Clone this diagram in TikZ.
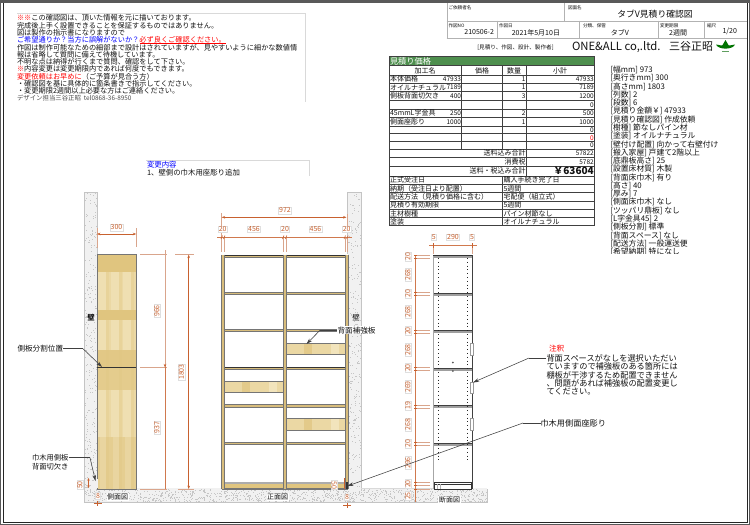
\documentclass[tikz,border=0pt]{standalone}
\usepackage{fontspec}
\setmainfont{Noto Sans CJK JP}
\usetikzlibrary{arrows.meta}
\definecolor{dimc}{HTML}{C8612F}
\definecolor{dimx}{HTML}{D9A58C}
\definecolor{woodA}{HTML}{EBD8A4}
\definecolor{woodB}{HTML}{E0C57F}
\definecolor{woodS}{HTML}{D8BD7C}
\definecolor{woodC}{HTML}{F2E4BC}
\definecolor{edge}{HTML}{757575}
\definecolor{wallc}{HTML}{F1F1F1}
\definecolor{wallb}{HTML}{C4C4C4}
\definecolor{tgreen}{HTML}{4E8F4E}
\definecolor{inkc}{HTML}{111111}
\newcounter{tn}
% general text: [node options]{x}{y}{size}{text}
\newcommand{\tx}[5][]{\stepcounter{tn}\node[txt,#1,name=t\thetn] at (#2,#3) {\fontsize{#4}{#4}\selectfont #5};}
\newcommand{\dimlab}[4][0]{\stepcounter{tn}\node[dimlabel,rotate=#1,name=d\thetn] at (#2,#3) {#4};}
\newcommand{\speck}[5]{\foreach \i in {1,...,#5}{\pgfmathsetmacro{\px}{#1+rnd*#3}\pgfmathsetmacro{\py}{#2+rnd*#4}\fill[gray!45] (\px,\py) rectangle ++(.6,.6);}}
\newcommand{\shelfF}[4]{\fill[woodS] (#1,#3) rectangle (#2,#4);\fill[edge] (#1,#4-1) rectangle (#2,#4);\fill[edge] (#1,#3) rectangle (#2,#3+.5);}
\newcommand{\backb}[4]{\fill[woodA] (#1,#3) rectangle (#2,#4);\fill[woodB,opacity=.7] (#1+18,#3) rectangle (#1+26,#4);\fill[woodC] (#2-14,#3) rectangle (#2-6,#4);\fill[edge] (#1,#3-.8) rectangle (#2,#3+.4);\fill[edge] (#1,#4-.6) rectangle (#2,#4+.3);}
\newcommand{\sect}[2]{\fill[gray!75] (433.3,#1) rectangle (472.3,#2);\fill[black!75] (433.3,#1) rectangle (472.3,#1+.7);}
\tikzset{
 txt/.style={inner sep=0pt,outer sep=0pt,text=inkc,anchor=west},
 dimlabel/.style={inner sep=.6pt,outer sep=0pt,text=dimc,fill=white,draw=gray!25,line width=.25pt,font=\fontsize{7}{7}\selectfont},
 dimline/.style={dimc!85,line width=.55pt},
 dimtip/.style={dimc,line width=.55pt,{Stealth[length=3.4pt,width=2.6pt]}-{Stealth[length=3.4pt,width=2.6pt]}},
 extl/.style={dimx,line width=.5pt},
 grid/.style={black!75,line width=.45pt},
 tgrid/.style={gray!60,line width=.35pt},
 leader/.style={black!75,line width=.5pt},
 leadarrow/.style={black!75,line width=.55pt,-{Stealth[length=6pt,width=3.6pt]}},
}
\begin{document}
\begin{tikzpicture}[x=1pt,y=-1pt]
\useasboundingbox (0,0) rectangle (750,525);
\fill[white] (0,0) rectangle (750,525);
\pgfmathsetseed{4}
% frame
\draw[gray!70!black,line width=1pt] (.5,.5) rectangle (749.5,524.5);
\draw[black!85,line width=1pt] (3.5,2.5) rectangle (747.5,522.8);
\fill[gray!70!black] (0,0) rectangle (750,2.5);
% notes
\tx{17}{18}{7.2}{\textcolor{red}{※※}この確認図は、頂いた情報を元に描いております。}
\tx{17}{25.3}{7.2}{完成後上手く設置できることを保証するものではありません。}
\tx{17}{32.7}{7.2}{図は製作の指示書になりますので}
\tx{17}{40}{7.2}{\textcolor{blue}{ご希望通りか？当方に誤解がないか？}\textcolor{red}{必ず良くご確認ください。}}
\draw[red,line width=.5pt] (140,43.4) -- (226,43.4);
\tx{17}{47.3}{7.2}{作図は制作可能なための細部まで設計はされていますが、見やすいように細かな数値情}
\tx{17}{54.7}{7.2}{報は省略して質問に備えて待機しています。}
\tx{17}{62}{7.2}{不明な点は納得が行くまで質問、確認をして下さい。}
\tx{17}{69}{7.2}{\textcolor{red}{※}内容変更は変更期限内であれば何度でもできます。}
\tx{17}{76.3}{7.2}{\textcolor{red}{変更依頼はお早めに}（ご予算が見合う方）}
\tx{17}{83.3}{7.2}{・確認図を基に具体的に箇条書きで指示してください。}
\tx{17}{90.7}{7.2}{・変更期限2週間以上必要な方はご連絡ください。}
\tx{17}{98}{6.4}{\textcolor{black!70}{デザイン担当三谷正昭\ \ tel0868-36-8950}}
\draw[gray!30,line width=.3pt] (17,13.3) -- (305,13.3);\draw[gray!30,line width=.3pt] (305,13.3) -- (305,102);
% change note
\draw[gray!30,line width=.3pt] (146,160.3) -- (309.5,160.3) -- (309.5,176);
\tx{147}{165}{7.4}{\textcolor{blue}{変更内容}}
\tx{147}{173}{7.4}{1、壁側の巾木用座彫り追加}
% title block
\draw[tgrid] (446.7,3) -- (446.7,38) (564,3) -- (564,20.7) (446.7,20.7) -- (747,20.7) (446.7,38) -- (747,38);
\draw[tgrid] (496.7,20.7) -- (496.7,38) (579,20.7) -- (579,38) (657.7,20.7) -- (657.7,38) (704,20.7) -- (704,38);
\tx{448.5}{8}{4.6}{ご依頼者名}
\tx{568}{8}{4.6}{図面名}
\tx{448.5}{25.5}{4.6}{作図NO}
\tx{499}{25.5}{4.6}{作図日}
\tx{583}{25.5}{4.6}{分類、保管}
\tx{660}{25.5}{4.6}{変更期限}
\tx{707}{25.5}{4.6}{縮尺}
\tx[anchor=center]{655}{13.7}{8.8}{タブV見積り確認図}
\tx[anchor=east]{494}{32.5}{7}{210506-2}
\tx[anchor=east]{560}{32.5}{7}{2021年5月10日}
\tx[anchor=center]{620}{32.5}{7}{タブV}
\tx[anchor=east]{687}{32.5}{7}{2週間}
\tx[anchor=east]{737}{31}{7}{1/20}
\tx[anchor=center]{515.5}{47.3}{5.6}{[見積り、作図、設計、製作者]}
\tx{572}{47}{11.3}{ONE\&ALL co,.ltd.}
\tx{669}{46.5}{11}{三谷正昭}
% logo
\fill[green!45!black] (716,44.5) .. controls (722,46) and (729,46) .. (735,44.5) .. controls (733,50) and (718,50) .. (716,44.5);
\fill[green!45!black] (725.5,40) -- (729,46) -- (722,46) -- cycle;
\fill[green!25!gray] (722,50.5) rectangle (729,52);
% price table
\fill[tgreen] (389,56) rectangle (594.3,65.7);
\draw[grid,line width=.6pt] (389,56) rectangle (594.3,225.7);
\tx{390}{61}{8.2}{\textcolor{white}{見積り価格}}
\foreach \yy in {65.7,75,83,91.7,100.3,109,117.7,126.3,133.7,141.7,149,157.3,166.3,176,184.3,192.7,201,209.3,217.7}{\draw[grid] (389,\yy) -- (594.3,\yy);}
\draw[grid] (461.7,65.7) -- (461.7,149) (502.3,65.7) -- (502.3,149) (526.3,65.7) -- (526.3,176) (502.3,176) -- (502.3,225.7);
% header row
\tx[anchor=center]{425}{70.8}{7}{加工名}
\tx[anchor=center]{482}{70.8}{7}{価格}
\tx[anchor=center]{514}{70.8}{7}{数量}
\tx[anchor=center]{560}{70.8}{7}{小計}
% rows: name, price, qty, total
\tx{390}{79.3}{7}{本体価格}\tx[anchor=east]{461}{79.3}{6.5}{47933}\tx[anchor=east]{525.5}{79.3}{6.5}{1}\tx[anchor=east]{593.8}{79.3}{6.5}{47933}
\tx{390}{87.5}{7}{オイルナチュラル}\tx[anchor=east]{461}{87.5}{6.5}{7189}\tx[anchor=east]{525.5}{87.5}{6.5}{1}\tx[anchor=east]{593.8}{87.5}{6.5}{7189}
\tx{390}{96}{7}{側板背面切欠き}\tx[anchor=east]{461}{96}{6.5}{400}\tx[anchor=east]{525.5}{96}{6.5}{3}\tx[anchor=east]{593.8}{96}{6.5}{1200}
\tx[anchor=east]{593.8}{105}{6.5}{0}
\tx{390}{113.3}{7}{45mmL字金具}\tx[anchor=east]{461}{113.3}{6.5}{250}\tx[anchor=east]{525.5}{113.3}{6.5}{2}\tx[anchor=east]{593.8}{113.3}{6.5}{500}
\tx{390}{122}{7}{側面座彫り}\tx[anchor=east]{461}{122}{6.5}{1000}\tx[anchor=east]{525.5}{122}{6.5}{1}\tx[anchor=east]{593.8}{122}{6.5}{1000}
\tx[anchor=east]{593.8}{130}{6.5}{0}
\tx[anchor=east]{593.8}{137.7}{6.5}{\textcolor{red}{0}}
\tx[anchor=east]{593.8}{145.5}{6.5}{0}
\tx[anchor=east]{525.5}{153.2}{7}{送料込み合計}\tx[anchor=east]{593.8}{153.2}{6.5}{57822}
\tx[anchor=east]{525.5}{161.8}{7}{消費税}\tx[anchor=east]{593.8}{161.8}{6.5}{5782}
\tx[anchor=east]{525.5}{171}{7}{送料・税込み合計}\tx[anchor=east]{593.8}{170.5}{10}{\textbf{￥63604}}
\tx{390}{180.3}{7}{正式受注日}\tx{503.5}{180.3}{7}{購入手続き完了日}
\tx{390}{188.5}{7}{納期（受注日より配置）}\tx{503.5}{188.5}{7}{5週間}
\tx{390}{197}{7}{配送方法（見積り価格に含む）}\tx{503.5}{197}{7}{宅配便（組立式）}
\tx{390}{205}{7}{見積り有効期限}\tx{503.5}{205}{7}{5週間}
\tx{390}{213.5}{7}{主材樹種}\tx{503.5}{213.5}{7}{パイン材節なし}
\tx{390}{221.7}{7}{塗装}\tx{503.5}{221.7}{7}{オイルナチュラル}
% spec list
\begin{scope}
\clip (605,60) rectangle (745,253.5);
\foreach \n/\s in {0/{[幅mm] 973},1/{[奥行きmm] 300},2/{[高さmm] 1803},3/{[列数] 2},4/{[段数] 6},5/{[見積り金額￥] 47933},6/{[見積り確認図] 作成依頼},7/{[樹種] 節なしパイン材},8/{[塗装] オイルナチュラル},9/{[壁付け配置] 向かって右壁付け},10/{[搬入家屋] 戸建て2階以上},11/{[底鼎板高さ] 25},12/{[設置床材質] 木製},13/{[背面床巾木] 有り},14/{[高さ] 40},15/{[厚み] 7},16/{[側面床巾木] なし},17/{[ツッパリ鼎板] なし},18/{[L字金具45] 2},19/{[側板分割] 標準},20/{[背面スペース] なし},21/{[配送方法] 一般運送便},22/{[希望納期] 特になし}}{
 \pgfmathsetmacro{\yy}{70+8.27*\n}
 \tx{610.5}{\yy}{7.8}{\s}
}
\end{scope}
% walls and floor
\fill[wallc] (84,192) rectangle (97,490);
\fill[wallc] (347.7,192) rectangle (361,490);
\fill[wallc] (84,488) rectangle (487,502);
\speck{84}{192}{13}{296}{260}
\speck{348}{192}{13}{296}{260}
\speck{84}{489}{403}{13}{1100}
\draw[wallb,line width=.6pt] (97,192.3) -- (84.3,192.3) -- (84.3,501.8) -- (487,501.8) -- (487,488.5);
\draw[wallb,line width=.6pt] (97,192.3) -- (97,254);
\draw[wallb,line width=.9pt] (347.7,192.3) -- (361,192.3) -- (361,488);
\draw[wallb,line width=.6pt] (347.7,192.3) -- (347.7,254);
\draw[gray!30,line width=.4pt] (361,488.3) -- (433,488.3);
% side panel
\fill[woodA] (97,254.5) rectangle (136.2,489);
\fill[woodB] (97,254.5) rectangle (136.2,272);
\fill[woodB] (97,310) rectangle (136.2,320);
\fill[woodB,opacity=.8] (97,350) rectangle (136.2,367);
\fill[woodB,opacity=.6] (97,368) rectangle (136.2,390);
\fill[woodB,opacity=.5] (97,437) rectangle (136.2,489);
\foreach \xx in {98,111,123}{\fill[woodC,opacity=.6] (\xx,272) rectangle (\xx+8,310);\fill[woodC,opacity=.6] (\xx,320) rectangle (\xx+8,350);\fill[woodC,opacity=.6] (\xx,390) rectangle (\xx+8,437);\fill[woodC,opacity=.35] (\xx+2,437) rectangle (\xx+8,489);\fill[woodB,opacity=.25] (\xx+8,254.5) rectangle (\xx+11,489);}
\draw[edge,line width=.8pt] (97,489) -- (97,254.5) -- (136.2,254.5) -- (136.2,489) -- cycle;
\draw[black!80,line width=.6pt] (97,367.3) -- (136.2,367.3);
% wall-side cut-out
\fill[wallc] (94,479) rectangle (97.6,488.4);
% side dims
\coordinate (s3a) at (97,234);\coordinate (s3b) at (136.2,234);
\draw[extl] (97,228) -- (97,248) (136.2,228) -- (136.2,247);
\draw[dimtip] (s3a) -- (s3b);
\dimlab{116.5}{227.5}{300}
\draw[extl] (140,254.7) -- (167,254.7) (175,254.7) -- (194,254.7) (140,367.3) -- (167,367.3) (140,489) -- (167,489) (178,489) -- (194,489);
\coordinate (v1) at (165,250);\coordinate (v2) at (165,367.3);\coordinate (v3) at (165,489);\coordinate (v4) at (188.7,254.7);\coordinate (v5) at (188.7,489);
\draw[dimx,line width=.6pt] (v1) -- (v2);
\draw[dimc!85,line width=.55pt] (v2) -- (v3);
\draw[dimtip] (v4) -- (v5);
\draw[dimc,line width=.5pt,-{Stealth[length=3.4pt,width=2.6pt]}] (165,365) -- (165,367.3);
\dimlab[90]{157}{311}{966}
\dimlab[90]{157}{427.5}{937}
\dimlab[90]{181.5}{372}{1803}
\tx[anchor=center,fill=white,inner sep=.4pt]{91}{317.5}{7.4}{\textbf{壁}}
\tx[anchor=center]{356}{317.5}{7.4}{壁}
% front view
\begin{scope}
\fill[white] (221.7,254.7) rectangle (347.7,489);
\backb{286}{345}{343.3}{355}
\backb{224}{283}{381.7}{392.7}
\backb{286}{345}{418.3}{430.3}
\foreach \a/\b in {254.7/257.8,292.3/295.4,329.3/332.4,367.3/370.3,404.3/407.7,441.7/445}{\shelfF{224}{283.5}{\a}{\b}\shelfF{286}{345}{\a}{\b}}
\fill[woodB] (224,482.4) rectangle (345,488.7);
\fill[gray!65] (224,482.4) rectangle (345,484.4);
\fill[edge] (224,487.8) rectangle (345,488.9);
\draw[black!80,line width=.6pt] (221.7,254.9) -- (347.7,254.9) (221.7,367.3) -- (347.7,367.3);
\foreach \a in {221.7,283.3,345}{\fill[woodS] (\a,254.7) rectangle (\a+2.8,489);\draw[edge,line width=.5pt] (\a,254.7) -- (\a,489) (\a+2.8,254.7) -- (\a+2.8,489);}
\draw[edge,line width=.5pt] (221.7,489) -- (347.7,489);
\fill[black!80] (345.5,482) rectangle (347.5,489);
\end{scope}
% front dims
\draw[extl] (221.7,213) -- (221.7,252) (347,214) -- (347,232);
\draw[extl] (224.5,237) -- (224.5,252) (283.5,237) -- (283.5,252) (286.3,237) -- (286.3,252) (345,237) -- (345,252) (347.7,237) -- (347.7,252);
\coordinate (f1) at (221.7,217.3);\coordinate (f2) at (346.5,217.3);
\draw[dimtip] (f1) -- (f2);
\draw[dimline] (217,237.3) -- (352,237.3);
\foreach \a in {222,224.5,283.5,286.3,345,347.7}{\draw[dimc,line width=.6pt] (\a-1,239) -- (\a+.5,235.5);}
\dimlab{285}{210.5}{972}
\dimlab{222.7}{229}{20}
\dimlab{254}{229}{456}
\dimlab{285}{229}{20}
\dimlab{315.5}{229}{456}
\dimlab{346.7}{229}{20}
% section view
\fill[white] (433.3,255) rectangle (472.3,489);
\foreach \a/\b in {255/258,292.7/295.5,330/333,367.7/370.5,405/408,442.7/445.7}{\sect{\a}{\b}}
\fill[white] (434.5,484) rectangle (471.5,487);
\draw[black!80,line width=.5pt] (434.5,482.3) rectangle (471.5,484.3);
\draw[black!80,line width=.5pt] (434.5,484.3) rectangle (471.5,489);
\draw[gray!60,line width=.4pt] (437,484.3) -- (437,489) (440,484.3) -- (440,489);
\draw[gray!70,line width=.7pt] (433.4,255) -- (433.4,489);
\draw[black!75,line width=.7pt] (472.3,255) -- (472.3,489);
\draw[black!80,line width=.8pt] (433.3,255) -- (472.3,255);
\draw[black!85,line width=.9pt,dash pattern=on .9pt off 2.9pt] (438.7,258) -- (438.7,460) (467.3,258) -- (467.3,460);
\foreach \a/\b in {343/355,382/393,418/430}{\draw[gray!80,line width=.4pt,fill=white] (470,\a) rectangle (473,\b);}
\fill[gray!70!black] (452.8,362.5) circle (1pt) (452.8,371) circle (1pt);
% section dims
\dimlab{433.7}{237}{5}
\dimlab{453}{237}{290}
\dimlab{472}{237}{5}
\draw[dimline] (429,245) -- (477,245);
\draw[extl] (433.5,245) -- (433.5,254) (472,245) -- (472,254);
\draw[dimc,line width=.7pt] (433.5,243) -- (433.5,248) (472,243) -- (472,248);
\draw[dimline] (415.5,255) -- (415.5,502);
\foreach \a in {255,258,292.7,295.5,330,333,367.7,370.5,405,408,442.7,445.7,482.5,485,489}{\draw[extl] (416,\a) -- (430,\a);\draw[dimc,line width=.7pt] (414,\a) -- (417,\a);}
\foreach \yy/\s in {256.7/20,275/268,293.7/20,312/268,331/20,350/268,368/20,387/269,405.7/19,424.3/268,443.3/20,463/296,484/20,496/25}{\dimlab[90]{408}{\yy}{\s}}
% small dims at the feet
\dimlab[90]{80}{485}{50}
\draw[dimc,line width=.5pt,{Stealth[length=2.8pt,width=2.4pt]}-{Stealth[length=2.8pt,width=2.4pt]}] (88.5,478) -- (88.5,488);
\dimlab{98}{495.5}{8}
\draw[dimc,line width=.5pt] (93.5,503.5) -- (101.5,503.5) (97.5,501) -- (97.5,506);
\dimlab[270]{334}{485}{50}
\draw[dimc,line width=.5pt] (344.5,478) -- (344.5,489);
\dimlab{347}{497}{8}
\draw[dimc,line width=.5pt] (343,505) -- (351,505) (347,502.5) -- (347,507.5);
% captions
\tx[fill=white,anchor=center,inner sep=.5pt]{117.5}{497}{7}{側面図}
\tx[fill=white,anchor=center,inner sep=.5pt]{277.5}{497}{7}{正面図}
\tx[fill=white,anchor=center,inner sep=1pt]{449.5}{500}{7}{断面図}
% labels and leaders
\node[txt,name=lbSplit] at (17.5,348.7) {\fontsize{7.6}{7.6}\selectfont 側板分割位置};
\coordinate (tipSplit) at (102,367);
\draw[leader] (lbSplit.east) -- (83,348.7);
\draw[leadarrow] (83,348.7) -- (tipSplit);
\node[txt,name=lbCut,align=left,font=\fontsize{7.3}{8.8}\selectfont] at (32,462.5) {巾木用側板\\背面切欠き};
\coordinate (tipCut) at (95.5,481);
\draw[leader] (lbCut.east |- 0,457.7) -- (90,457.7);
\draw[leadarrow] (90,457.7) -- (tipCut);
\coordinate (tipBack) at (306.5,344);
\node[txt,name=lbBack,fill=white,inner sep=.5pt] at (337,330.3) {\fontsize{7.6}{7.6}\selectfont 背面補強板};
\draw[leader] (lbBack.west) -- (320,330.3);
\draw[leadarrow] (320,330.3) -- (tipBack);
\node[txt,name=lbNote,align=left,fill=white,inner sep=.5pt,font=\fontsize{8.2}{8.35}\selectfont] at (546,375) {背面スペースがなしを選択いただい\\ていますので補強板のある箇所には\\棚板が干渉するため配置できません\\、問題があれば補強板の配置変更し\\てください。};
\node[txt,name=lbRed] at (549,348.7) {\fontsize{7.6}{7.6}\selectfont\textcolor{red}{注釈}};
\coordinate (tipNote) at (473,382.5);
\draw[leader] (lbNote.north west |- 0,358) -- (529,358);
\draw[leadarrow] (529,358) -- (tipNote);
\node[txt,name=lbSeat] at (540.5,423) {\fontsize{8.2}{8.2}\selectfont 巾木用側面座彫り};
\coordinate (tipSeat) at (347.5,486);
\draw[leader] (lbSeat.west) -- (523,423);
\draw[leadarrow] (523,423) -- (tipSeat);
\end{tikzpicture}
\end{document}
